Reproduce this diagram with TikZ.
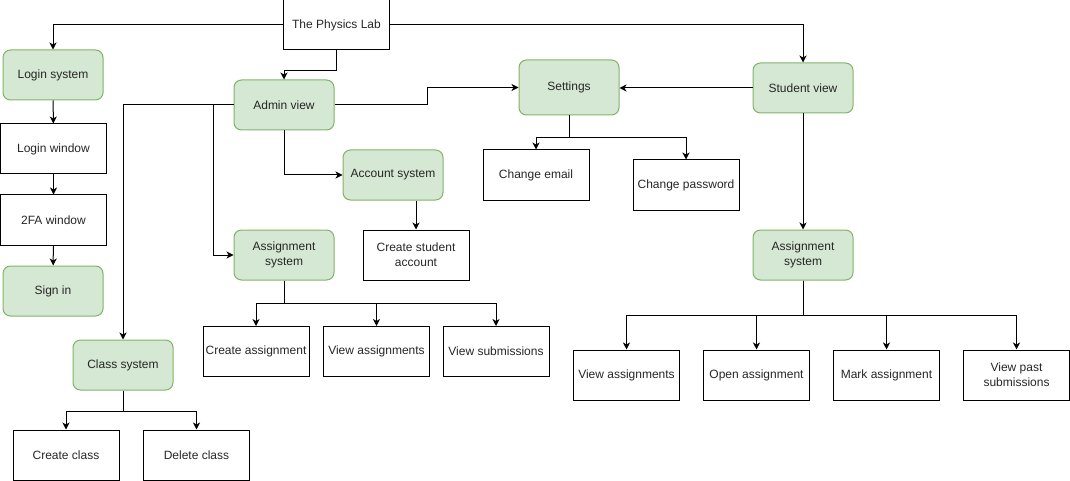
\documentclass[tikz,border=0pt]{standalone}
\usepackage{fontspec}
\setmainfont{Liberation Sans}
\usetikzlibrary{arrows.meta,calc}
\definecolor{gfill}{HTML}{D5E8D4}
\definecolor{gline}{HTML}{82B366}
\tikzset{
  base/.style={draw=black, line width=1pt, inner sep=0pt, align=center,
    font=\fontsize{12}{15}\selectfont, text=black!85},
  plainbox/.style={base, minimum width=106pt, minimum height=50pt},
  greenbox/.style={base, draw=gline, fill=gfill, rounded corners=7.5pt,
    minimum width=100pt, minimum height=50pt},
  arr/.style={draw=black, line width=1pt, -{Stealth[length=7pt,width=7pt,inset=2pt]}},
}
\begin{document}
\begin{tikzpicture}[x=1pt,y=-1pt]
\useasboundingbox (0,0) rectangle (1070,481);
% nodes
\node[plainbox] (phys) at (336.5,25) {The Physics Lab};
\node[greenbox] (login) at (53,75) {Login system};
\node[plainbox] (loginwin) at (53.5,149) {Login window};
\node[plainbox] (twofa) at (53.5,220) {2FA window};
\node[greenbox] (signin) at (53,291) {Sign in};
\node[greenbox] (admin) at (284,105) {Admin view};
\node[greenbox, minimum height=55pt] (settings) at (569,87.5) {Settings};
\node[greenbox] (student) at (803,88) {Student view};
\node[plainbox] (email) at (536,175) {Change email};
\node[plainbox] (pwd) at (686,185) {Change password};
\node[greenbox] (account) at (393,175) {Account system};
\node[plainbox] (createstu) at (416,255) {Create student\\account};
\node[greenbox] (assignA) at (284,255) {Assignment\\system};
\node[plainbox] (ca) at (256,351.5) {Create assignment};
\node[plainbox] (va) at (376.5,351.5) {View assignments};
\node[plainbox] (vs) at (496,351.5) {View submissions};
\node[greenbox] (classsys) at (123,365) {Class system};
\node[plainbox] (cc) at (66,455) {Create class};
\node[plainbox] (dc) at (196.5,455) {Delete class};
\node[greenbox] (assignS) at (803,255) {Assignment\\system};
\node[plainbox] (sva) at (626.5,375) {View assignments};
\node[plainbox] (soa) at (756.5,375) {Open assignment};
\node[plainbox] (sma) at (886.5,375) {Mark assignment};
\node[plainbox] (svp) at (1016.5,375) {View past\\submissions};
% connectors
\draw[arr] (phys.west) -| (login.north);
\draw[arr] (phys.east) -| (student.north);
\draw[arr] (phys.south) -- ++(0,20) -| (admin.north);
\draw[arr] (login) -- (loginwin);
\draw[arr] (loginwin) -- (twofa);
\draw[arr] (twofa) -- (signin);
\draw[arr] (admin.west) -| (classsys.north);
\draw[arr] (admin.west) -- ++(-20,0) |- (assignA.west);
\draw[arr] (admin.east) -- ++(93,0) |- (settings.west);
\draw[arr] (admin.south) |- (account.west);
\draw[arr] (account.south -| createstu.north) -- (createstu.north);
\draw[arr] (student.west) -- (student.west -| settings.east);
\draw[arr] (settings.south) -- ++(0,22) -| (email.north);
\draw[arr] (settings.south) -- ++(0,22) -| (pwd.north);
\draw[arr] (student.south) -- (assignS.north);
\foreach \c in {sva,soa,sma,svp}
  \draw[arr] (assignS.south) -- ++(0,35) -| (\c.north);
\foreach \c in {ca,va,vs}
  \draw[arr] (assignA.south) -- ++(0,23) -| (\c.north);
\foreach \c in {cc,dc}
  \draw[arr] (classsys.south) -- ++(0,21) -| (\c.north);
\end{tikzpicture}
\end{document}
